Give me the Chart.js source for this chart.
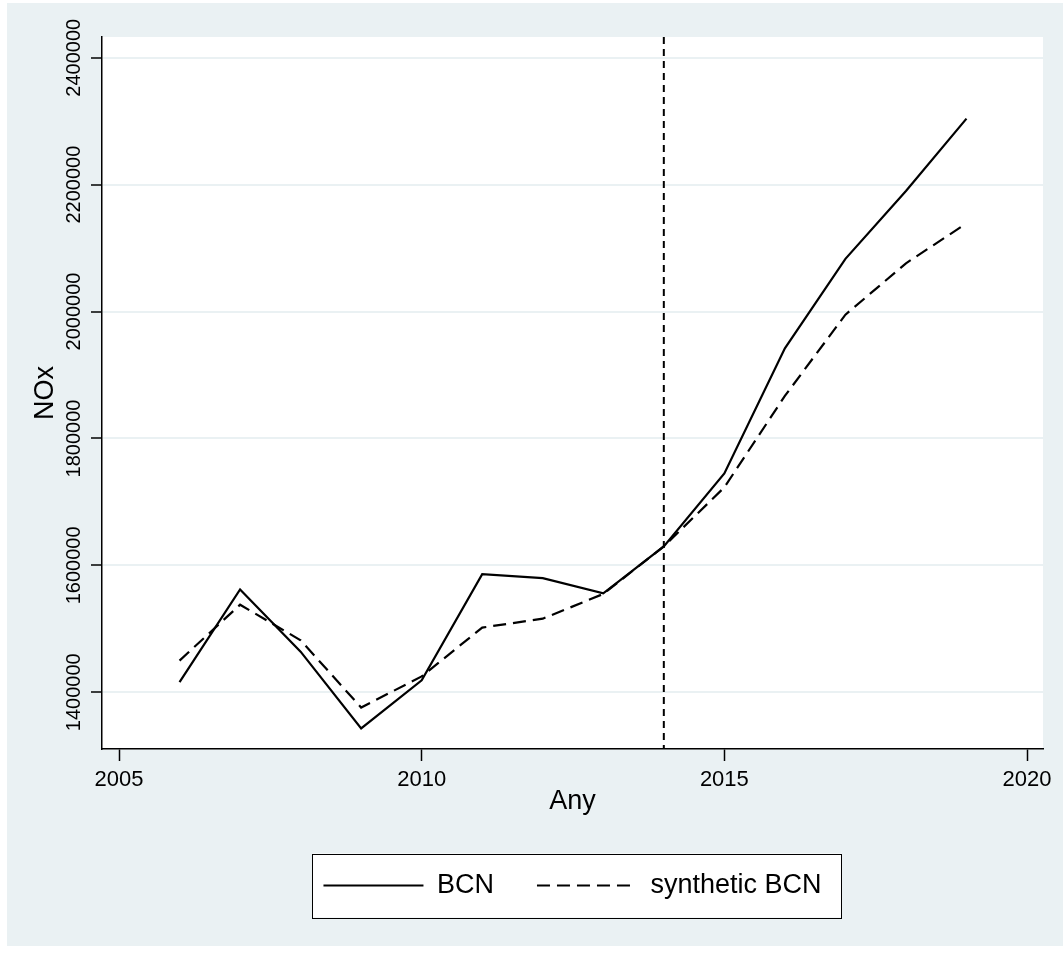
<!DOCTYPE html>
<html>
<head>
<meta charset="utf-8">
<script src="https://cdn.jsdelivr.net/npm/chart.js@4.4.1/dist/chart.umd.min.js"></script>
<style>
  html, body { margin: 0; padding: 0; background: #fff; }
  canvas { display: block; }
</style>
</head>
<body>
<canvas id="noxChart" width="1063" height="954"></canvas>
<script>
const years = [2006, 2007, 2008, 2009, 2010, 2011, 2012, 2013, 2014, 2015, 2016, 2017, 2018, 2019];
const bcn = [1416000, 1562000, 1464000, 1343000, 1419000, 1586000, 1580000, 1556000, 1630000, 1745000, 1942000, 2083000, 2190000, 2304000];
const syntheticBcn = [1450000, 1538000, 1482000, 1376000, 1425000, 1502000, 1516000, 1555000, 1630000, 1723000, 1867000, 1995000, 2076000, 2139000];
const xTicks = [2005, 2010, 2015, 2020];
const yTicks = [1400000, 1600000, 1800000, 2000000, 2200000, 2400000];
const treatmentYear = 2014;

const BG = '#eaf1f3';
const FONT = "'Liberation Sans', Arial, Helvetica, sans-serif";

Chart.defaults.font.family = FONT;
Chart.defaults.color = '#000';

const toPoints = (vals) => years.map((yr, i) => ({ x: yr, y: vals[i] }));

// background, plot region, legend frame, treatment line and rotated y labels
const stataLook = {
    id: 'stataLook',
    beforeDraw(chart) {
        const { ctx, width, height, chartArea } = chart;
        ctx.save();
        ctx.fillStyle = '#fff';
        ctx.fillRect(0, 0, width, height);
        ctx.fillStyle = BG;
        ctx.fillRect(7, 3, width - 7, height - 11);
        ctx.fillStyle = '#fff';
        ctx.fillRect(chartArea.left, chartArea.top, chartArea.right - chartArea.left, chartArea.bottom - chartArea.top);

        const hb = chart.legend && chart.legend.legendHitBoxes;
        if (hb && hb.length) {
            const first = hb[0], last = hb[hb.length - 1];
            const left = first.left - 11;
            const right = last.left + last.width + 20;
            const cy = first.top + first.height / 2;
            ctx.fillStyle = '#fff';
            ctx.fillRect(left, cy - 32, right - left, 64);
            ctx.strokeStyle = '#000';
            ctx.lineWidth = 1;
            ctx.strokeRect(Math.round(left) + 0.5, Math.round(cy - 32) + 0.5, Math.round(right - left), 64);
        }
        ctx.restore();
    },
    afterDatasetsDraw(chart) {
        const { ctx, chartArea, scales } = chart;
        const x = scales.x.getPixelForValue(treatmentYear);
        ctx.save();
        ctx.strokeStyle = '#000';
        ctx.lineWidth = 2;
        ctx.setLineDash([7, 5]);
        ctx.beginPath();
        ctx.moveTo(x, chartArea.top);
        ctx.lineTo(x, chartArea.bottom);
        ctx.stroke();
        ctx.restore();
    },
    afterDraw(chart) {
        const { ctx, scales } = chart;
        ctx.save();
        ctx.fillStyle = '#000';
        ctx.font = '20px ' + FONT;
        ctx.textAlign = 'center';
        ctx.textBaseline = 'middle';
        yTicks.forEach(v => {
            const y = scales.y.getPixelForValue(v);
            ctx.save();
            ctx.translate(74, y);
            ctx.rotate(-Math.PI / 2);
            ctx.fillText(String(v), 0, 0);
            ctx.restore();
        });
        ctx.restore();
    }
};

const ctx = document.getElementById('noxChart').getContext('2d');
const noxChart = new Chart(ctx, {
    type: 'line',
    data: {
        datasets: [{
            label: 'BCN',
            data: toPoints(bcn),
            borderColor: '#000',
            backgroundColor: '#000',
            borderWidth: 2.2,
            pointRadius: 0,
            tension: 0
        }, {
            label: 'synthetic BCN',
            data: toPoints(syntheticBcn),
            borderColor: '#000',
            backgroundColor: '#000',
            borderWidth: 2.2,
            borderDash: [13, 7],
            pointRadius: 0,
            tension: 0
        }]
    },
    options: {
        responsive: false,
        animation: false,
        devicePixelRatio: 1,
        layout: {
            padding: { top: 37, right: 20, bottom: 45, left: 0 }
        },
        plugins: {
            tooltip: { enabled: false },
            legend: {
                display: true,
                position: 'bottom',
                fullSize: false,
                labels: {
                    usePointStyle: true,
                    pointStyle: 'line',
                    pointStyleWidth: 100,
                    padding: 43,
                    color: '#000',
                    font: { size: 27 },
                    generateLabels: (chart) => {
                        const items = Chart.defaults.plugins.legend.labels.generateLabels(chart);
                        items.forEach(item => {
                            const ds = chart.data.datasets[item.datasetIndex];
                            item.lineDash = ds.borderDash || [];
                            item.lineWidth = ds.borderWidth;
                            item.strokeStyle = ds.borderColor;
                        });
                        return items;
                    }
                }
            }
        },
        scales: {
            x: {
                type: 'linear',
                min: 2004.719,
                max: 2020.264,
                afterBuildTicks: (scale) => { scale.ticks = xTicks.map(v => ({ value: v })); },
                afterFit: (scale) => { scale.height = 80; },
                ticks: {
                    padding: 6,
                    maxRotation: 0,
                    color: '#000',
                    font: { size: 22 },
                    callback: (v) => String(v)
                },
                grid: {
                    drawOnChartArea: false,
                    tickColor: '#000',
                    tickLength: 12,
                    tickWidth: 1.5
                },
                border: { color: '#000', width: 1.5 },
                title: {
                    display: true,
                    text: 'Any',
                    color: '#000',
                    font: { size: 27 },
                    padding: { top: 0, bottom: 11 }
                }
            },
            y: {
                type: 'linear',
                min: 1310650,
                max: 2432620,
                afterBuildTicks: (scale) => { scale.ticks = yTicks.map(v => ({ value: v })); },
                afterFit: (scale) => { scale.width = 102; },
                ticks: { display: false },
                grid: {
                    color: BG,
                    lineWidth: 2,
                    tickColor: '#000',
                    tickLength: 11,
                    tickWidth: 1.5
                },
                border: { color: '#000', width: 1.5 },
                title: {
                    display: true,
                    text: 'NOx',
                    color: '#000',
                    font: { size: 27 },
                    padding: { top: 29, bottom: 0 }
                }
            }
        }
    },
    plugins: [stataLook]
});
</script>
</body>
</html>
